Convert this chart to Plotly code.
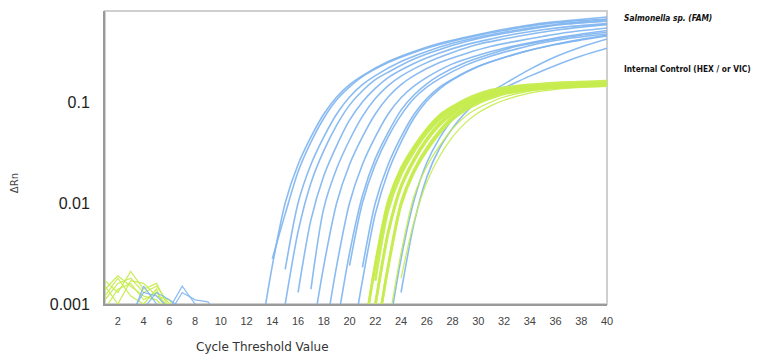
import plotly.graph_objects as go

# ---------------- data (cycle, delta Rn) ----------------
# Salmonella sp. (FAM) amplification curves
fam_cycles = [
    [13, 14, 15, 16, 17, 18, 19, 20, 21, 23, 25, 27, 29, 31, 33, 35, 37, 40],
    [14, 15, 16, 17, 18, 19, 20, 21, 23, 25, 27, 29, 31, 33, 35, 37, 40],
    [15, 16, 17, 18, 19, 20, 21, 22, 24, 26, 28, 30, 32, 34, 36, 38, 40],
    [14, 15, 16, 17, 18, 19, 20, 21, 22, 23, 25, 27, 29, 31, 33, 35, 37, 40],
    [16, 17, 18, 19, 20, 21, 22, 23, 25, 27, 29, 31, 33, 35, 37, 40],
    [17, 18, 19, 20, 21, 22, 23, 24, 26, 28, 30, 32, 34, 36, 38, 40],
    [17, 18, 19, 20, 21, 22, 23, 24, 25, 27, 29, 31, 33, 35, 37, 40],
    [18, 19, 20, 21, 22, 23, 24, 25, 26, 28, 30, 32, 34, 36, 38, 40],
    [19, 20, 21, 22, 23, 24, 25, 26, 27, 29, 31, 33, 35, 37, 40],
    [20, 21, 22, 23, 24, 25, 26, 27, 29, 31, 33, 35, 37, 40],
    [21, 22, 23, 24, 25, 26, 27, 28, 30, 32, 34, 36, 38, 40],
    [20, 21, 22, 23, 24, 25, 26, 27, 28, 30, 32, 34, 36, 38, 40],
    [23, 24, 25, 26, 27, 28, 29, 30, 32, 34, 36, 38, 40],
    [24, 25, 26, 27, 28, 29, 30, 32, 34, 36, 38, 40],
]
fam_values = [
    [0.00042, 0.0024, 0.0100, 0.024, 0.045, 0.076, 0.112, 0.148, 0.182, 0.251, 0.316, 0.380, 0.437, 0.495, 0.550, 0.603, 0.638, 0.692],
    [0.0028, 0.0078, 0.0204, 0.040, 0.069, 0.105, 0.141, 0.178, 0.245, 0.309, 0.370, 0.427, 0.484, 0.537, 0.589, 0.624, 0.661],
    [0.0022, 0.0100, 0.024, 0.045, 0.076, 0.112, 0.148, 0.182, 0.251, 0.316, 0.380, 0.437, 0.490, 0.540, 0.585, 0.620, 0.650],
    [0.00017, 0.0010, 0.0052, 0.0158, 0.033, 0.059, 0.093, 0.129, 0.166, 0.197, 0.266, 0.331, 0.394, 0.452, 0.500, 0.550, 0.590, 0.630],
    [0.0013, 0.0068, 0.0186, 0.037, 0.066, 0.100, 0.136, 0.174, 0.240, 0.305, 0.367, 0.420, 0.473, 0.519, 0.556, 0.596],
    [0.0014, 0.0089, 0.0219, 0.042, 0.072, 0.108, 0.145, 0.180, 0.245, 0.309, 0.372, 0.420, 0.468, 0.513, 0.550, 0.582],
    [0.00042, 0.0024, 0.0100, 0.024, 0.045, 0.076, 0.112, 0.148, 0.182, 0.245, 0.300, 0.355, 0.400, 0.445, 0.490, 0.540],
    [0.00042, 0.0024, 0.0100, 0.024, 0.045, 0.076, 0.110, 0.143, 0.175, 0.238, 0.290, 0.340, 0.385, 0.430, 0.470, 0.510],
    [0.00059, 0.0032, 0.0118, 0.0275, 0.050, 0.083, 0.117, 0.151, 0.184, 0.245, 0.300, 0.355, 0.400, 0.440, 0.490],
    [0.0024, 0.0100, 0.024, 0.045, 0.074, 0.108, 0.140, 0.170, 0.230, 0.285, 0.335, 0.385, 0.425, 0.470],
    [0.0023, 0.0100, 0.024, 0.045, 0.075, 0.108, 0.140, 0.168, 0.225, 0.275, 0.325, 0.370, 0.410, 0.450],
    [0.0003, 0.0017, 0.0078, 0.0204, 0.040, 0.069, 0.102, 0.135, 0.166, 0.224, 0.275, 0.324, 0.372, 0.417, 0.457],
    [0.0005, 0.0028, 0.0105, 0.025, 0.044, 0.067, 0.089, 0.110, 0.138, 0.180, 0.230, 0.285, 0.340],
    [0.0013, 0.0062, 0.018, 0.035, 0.055, 0.078, 0.105, 0.150, 0.210, 0.280, 0.350, 0.420],
]

# Internal Control (HEX / VIC) amplification curves
ic_cycles = [
    [21, 22, 23, 24, 25, 26, 27, 28, 29, 30, 31, 33, 35, 37, 40],
    [21, 22, 23, 24, 25, 26, 27, 28, 29, 30, 31, 33, 35, 37, 40],
    [21, 22, 23, 24, 25, 26, 27, 28, 29, 30, 31, 33, 35, 37, 40],
    [21, 22, 23, 24, 25, 26, 27, 28, 29, 30, 31, 33, 35, 37, 40],
    [22, 23, 24, 25, 26, 27, 28, 29, 30, 31, 32, 34, 36, 38, 40],
    [22, 23, 24, 25, 26, 27, 28, 29, 30, 31, 32, 34, 36, 38, 40],
    [22, 23, 24, 25, 26, 27, 28, 29, 30, 31, 33, 35, 37, 40],
    [23, 24, 25, 26, 27, 28, 29, 30, 31, 32, 34, 36, 38, 40],
    [24, 25, 26, 27, 28, 29, 30, 31, 32, 34, 36, 38, 40],
]
ic_values = [
    [0.0004, 0.0024, 0.0100, 0.021, 0.035, 0.052, 0.071, 0.087, 0.102, 0.115, 0.126, 0.138, 0.145, 0.150, 0.155],
    [0.0004, 0.0025, 0.0104, 0.022, 0.036, 0.054, 0.074, 0.090, 0.106, 0.120, 0.131, 0.144, 0.151, 0.156, 0.161],
    [0.00017, 0.0010, 0.0052, 0.0148, 0.0272, 0.0432, 0.0617, 0.0794, 0.0955, 0.108, 0.120, 0.135, 0.143, 0.148, 0.153],
    [0.00016, 0.00096, 0.0050, 0.0142, 0.026, 0.0415, 0.059, 0.076, 0.092, 0.104, 0.115, 0.130, 0.137, 0.142, 0.147],
    [0.0004, 0.0024, 0.0100, 0.021, 0.035, 0.052, 0.071, 0.087, 0.102, 0.115, 0.126, 0.138, 0.145, 0.150, 0.153],
    [0.0004, 0.0023, 0.0095, 0.020, 0.033, 0.049, 0.067, 0.083, 0.097, 0.109, 0.120, 0.131, 0.138, 0.142, 0.145],
    [0.0017, 0.0085, 0.019, 0.032, 0.049, 0.067, 0.084, 0.099, 0.112, 0.123, 0.137, 0.144, 0.149, 0.154],
    [0.0006, 0.0032, 0.0116, 0.023, 0.037, 0.054, 0.072, 0.087, 0.100, 0.112, 0.128, 0.137, 0.142, 0.146],
    [0.0018, 0.0065, 0.016, 0.029, 0.045, 0.062, 0.078, 0.092, 0.104, 0.122, 0.133, 0.139, 0.143],
]
ic_thin = [False, False, False, False, False, False, False, True, True]

# Early-cycle baseline noise
ic_noise_cycles = [
    [1, 2, 3, 4, 5, 6, 7],
    [1, 2, 3, 4, 5, 6],
    [1, 2, 3, 4, 5, 6, 7],
    [1, 2, 3, 4, 5, 6, 7],
    [1, 2, 3, 4, 5, 6],
    [1, 2, 3, 4, 5, 6],
]
ic_noise_values = [
    [0.0017, 0.0013, 0.0021, 0.0014, 0.0016, 0.0009, 0.0007],
    [0.0014, 0.0019, 0.0015, 0.0012, 0.0011, 0.0008],
    [0.0011, 0.0016, 0.0018, 0.0013, 0.0015, 0.0010, 0.0008],
    [0.0015, 0.0010, 0.0017, 0.0016, 0.0012, 0.0011, 0.0007],
    [0.0012, 0.0018, 0.0012, 0.0010, 0.0014, 0.0007],
    [0.0009, 0.0014, 0.0016, 0.0011, 0.0013, 0.0009],
]
fam_noise_cycles = [
    [3, 4, 5, 6],
    [3, 4, 5, 6, 7, 8, 9],
    [6, 7, 8, 9, 10],
    [4, 5, 6, 7],
]
fam_noise_values = [
    [0.0007, 0.0015, 0.0010, 0.0008],
    [0.0008, 0.0013, 0.0012, 0.0009, 0.0015, 0.0010, 0.0007],
    [0.0008, 0.0013, 0.0011, 0.00105, 0.0007],
    [0.0009, 0.0013, 0.0011, 0.0009],
]

x_ticks = list(range(2, 41, 2))
y_ticks = [0.001, 0.01, 0.1]
y_tick_text = ["0.001", "0.01", "0.1"]
fam_label = "Salmonella sp. (FAM)"
ic_label = "Internal Control (HEX / or VIC)"

BLUE = "rgba(125,180,240,0.9)"
GREEN = "rgba(198,236,78,0.95)"

fig = go.Figure()

for cx, cy in zip(ic_noise_cycles, ic_noise_values):
    fig.add_trace(go.Scatter(x=cx, y=cy, mode="lines", line=dict(color=GREEN, width=1.2), hoverinfo="skip"))
for cx, cy in zip(fam_noise_cycles, fam_noise_values):
    fig.add_trace(go.Scatter(x=cx, y=cy, mode="lines", line=dict(color=BLUE, width=1.2), hoverinfo="skip"))

for cx, cy in zip(fam_cycles, fam_values):
    fig.add_trace(go.Scatter(x=cx, y=cy, mode="lines",
                             line=dict(color=BLUE, width=1.6, shape="spline", smoothing=0.8),
                             hoverinfo="skip"))
for cx, cy, thin in zip(ic_cycles, ic_values, ic_thin):
    fig.add_trace(go.Scatter(x=cx, y=cy, mode="lines",
                             line=dict(color=GREEN, width=1.2 if thin else 2.6, shape="spline", smoothing=0.8),
                             hoverinfo="skip"))

fig.add_shape(type="rect", xref="paper", yref="paper", x0=0, x1=1, y0=0, y1=1,
              line=dict(color="#cfcfcf", width=2), layer="below")

# page body has an 8px margin, so the figure is sized/offset to land the plot where the reference has it
fig.update_layout(
    width=753, height=346,
    margin=dict(l=97, r=154, t=3, b=50),
    paper_bgcolor="white", plot_bgcolor="white",
    showlegend=False,
    xaxis=dict(range=[1, 40], tickvals=x_ticks, showgrid=False, zeroline=False,
               showline=True, linecolor="#9a9a9a", linewidth=2,
               ticks="", ticklabelstandoff=6,
               tickfont=dict(family="Liberation Sans, Arial", size=11, color="#444")),
    yaxis=dict(type="log", range=[-3, -0.1], tickvals=y_ticks, ticktext=y_tick_text,
               showgrid=False, zeroline=False, showline=True, linecolor="#9a9a9a", linewidth=2,
               ticks="", ticklabelstandoff=10,
               tickfont=dict(family="Liberation Sans, Arial", size=16, color="#222")),
    annotations=[
        dict(text="Cycle Threshold Value", xref="paper", yref="paper", x=0.313, y=-0.147,
             xanchor="center", yanchor="middle", showarrow=False,
             font=dict(family="DejaVu Sans", size=12, color="#333")),
        dict(text="ΔRn", xref="paper", yref="paper", x=-0.179, y=0.413, textangle=-90,
             xanchor="center", yanchor="middle", showarrow=False,
             font=dict(family="DejaVu Sans", size=10, color="#444")),
        dict(text="<b><i>" + fam_label + "</i></b>", xref="paper", yref="paper", x=1.03, y=0.976,
             xanchor="left", yanchor="middle", showarrow=False,
             font=dict(family="DejaVu Sans Condensed, DejaVu Sans", size=8.3, color="#111")),
        dict(text="<b>" + ic_label + "</b>", xref="paper", yref="paper", x=1.03, y=0.802,
             xanchor="left", yanchor="middle", showarrow=False,
             font=dict(family="DejaVu Sans Condensed, DejaVu Sans", size=8.3, color="#111")),
    ],
)

fig.write_html("out.html")
